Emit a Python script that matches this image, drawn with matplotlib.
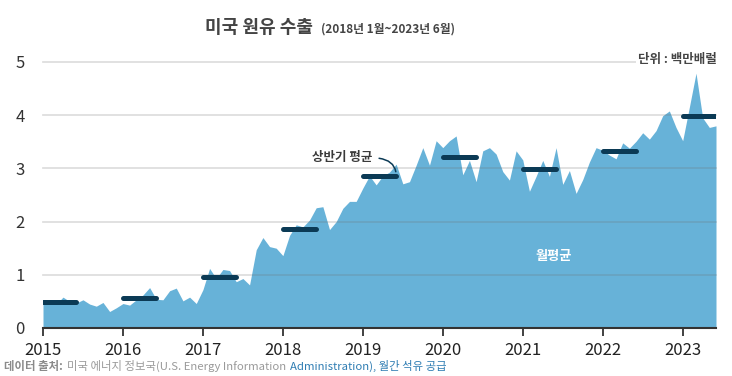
import numpy as np
import matplotlib
matplotlib.use("Agg")
import matplotlib.pyplot as plt

# ---------------- data ----------------
monthly_2015 = [0.46, 0.45, 0.45, 0.58, 0.50, 0.47, 0.53, 0.45, 0.41, 0.48, 0.31, 0.38]
monthly_2016 = [0.46, 0.43, 0.53, 0.62, 0.76, 0.54, 0.53, 0.70, 0.75, 0.51, 0.58, 0.46]
monthly_2017 = [0.72, 1.12, 0.93, 1.10, 1.08, 0.87, 0.93, 0.81, 1.47, 1.70, 1.53, 1.50]
monthly_2018 = [1.36, 1.74, 1.94, 1.90, 2.03, 2.26, 2.28, 1.85, 2.00, 2.25, 2.38, 2.38]
monthly_2019 = [2.63, 2.86, 2.69, 2.86, 2.93, 3.08, 2.71, 2.75, 3.06, 3.39, 3.06, 3.52]
monthly_2020 = [3.39, 3.52, 3.61, 2.88, 3.15, 2.75, 3.33, 3.39, 3.27, 2.94, 2.78, 3.33]
monthly_2021 = [3.16, 2.57, 2.85, 3.15, 2.85, 3.39, 2.70, 2.96, 2.53, 2.79, 3.12, 3.39]
monthly_2022 = [3.34, 3.25, 3.18, 3.48, 3.38, 3.51, 3.67, 3.55, 3.71, 3.99, 4.08, 3.77]
monthly_2023 = [3.52, 4.15, 4.79, 3.95, 3.77, 3.80]

h1_years = [2015, 2016, 2017, 2018, 2019, 2020, 2021, 2022, 2023]
h1_avg = [0.48, 0.57, 0.96, 1.87, 2.86, 3.21, 2.99, 3.33, 3.98]

year_ticks = [2015, 2016, 2017, 2018, 2019, 2020, 2021, 2022, 2023]
y_ticks = [0, 1, 2, 3, 4, 5]

title_main = "미국 원유 수출"
title_sub = "(2018년 1월~2023년 6월)"
unit_label = "단위 : 백만배럴"
h1_label = "상반기 평균"
monthly_label = "월평균"
source_parts = ["데이터 출처: ", "미국 에너지 정보국(U.S. Energy Information ",
                "Administration), 월간 석유 공급"]

monthly = (monthly_2015 + monthly_2016 + monthly_2017 + monthly_2018 + monthly_2019
           + monthly_2020 + monthly_2021 + monthly_2022 + monthly_2023)
x = 2015 + np.arange(len(monthly)) / 12.0

# ---------------- style ----------------
KR = ['Noto Sans CJK KR', 'DejaVu Sans']
FILL = '#67b2d8'
NAVY = '#0b3a55'

W, H = 732, 376
fig = plt.figure(figsize=(W / 100, H / 100), dpi=100)
ax = fig.add_axes([43 / W, 1 - 328 / H, (716 - 43) / W, (328 - 62) / H])

ax.fill_between(x, monthly, 0, color=FILL, lw=0, zorder=1)
for v in y_ticks[1:]:
    ax.axhline(v, color='#6f6f6f', alpha=0.25, lw=1.2, zorder=2, clip_on=False)

for yr, v in zip(h1_years, h1_avg):
    ax.plot([yr, yr + 5 / 12], [v, v], color=NAVY, lw=3.6,
            solid_capstyle='round', zorder=3)

ax.set_xlim(x[0], x[-1])
ax.set_ylim(0, 5)

for s in ['top', 'right', 'left']:
    ax.spines[s].set_visible(False)
ax.spines['bottom'].set_color('#333333')
ax.spines['bottom'].set_linewidth(1.5)
ax.spines['bottom'].set_zorder(4)

ax.set_xticks(year_ticks)
ax.set_xticklabels([str(y) for y in year_ticks], family=KR, fontsize=12,
                   color='#222222')
ax.tick_params(axis='x', length=6, width=1.3, color='#333333', pad=4)
ax.set_yticks(y_ticks)
ax.set_yticklabels([str(v) for v in y_ticks], family=KR, fontsize=12,
                   color='#333333')
ax.tick_params(axis='y', length=0, pad=13)

# annotations
i19 = h1_years.index(2019)
ax.annotate(h1_label, xy=(h1_years[i19] + 5 / 12, h1_avg[i19]),
            xytext=(-24, 18), textcoords='offset pixels',
            ha='right', va='center', fontsize=9, fontweight='bold',
            color='#3a3a3a', family=KR, zorder=5,
            arrowprops=dict(arrowstyle='-', color=NAVY, lw=1.1,
                            connectionstyle='angle3,angleA=0,angleB=90',
                            relpos=(1, 0.5), shrinkA=3, shrinkB=3))

ax.text(2021.38, 1.35, monthly_label, ha='center', va='center', fontsize=9.5,
        fontweight='bold', color='white', family=KR, zorder=5)

fig.text(717 / W, 1 - 60 / H, unit_label, ha='right', va='center', fontsize=9,
         fontweight='bold', color='#444444', family=KR,
         bbox=dict(facecolor='white', edgecolor='none', pad=1.5))

renderer = fig.canvas.get_renderer()


def chain(x0_px, base_px, parts):
    xp = x0_px
    for txt, kw, gap in parts:
        t = fig.text(xp / W, 1 - base_px / H, txt, va='baseline', ha='left', **kw)
        bb = t.get_window_extent(renderer)
        xp = bb.x1 + gap


chain(205, 33, [
    (title_main, dict(fontsize=13, fontweight='bold', color='#444444', family=KR), 8),
    (title_sub, dict(fontsize=8.5, fontweight='bold', color='#444444', family=KR), 0),
])

chain(4, 370, [
    (source_parts[0], dict(fontsize=8.2, fontweight='bold', color='#8a8a8a', family=KR), 2),
    (source_parts[1], dict(fontsize=8.2, color='#9a9a9a', family=KR), 1),
    (source_parts[2], dict(fontsize=8.2, style='italic', color='#2f7db3', family=KR), 0),
])

fig.savefig('out.png', dpi=100, facecolor='white')
